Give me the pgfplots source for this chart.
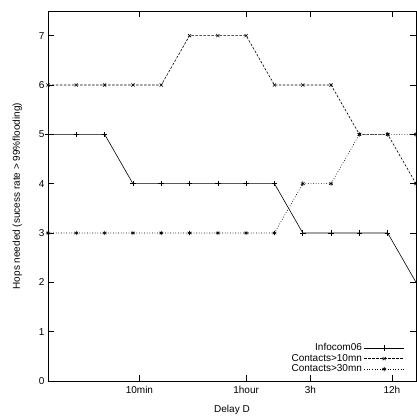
\documentclass[border=0pt]{standalone}
\usepackage{pgfplots}
\pgfplotsset{compat=1.18}
\usepackage{fontspec}
\setmainfont{Liberation Sans}
\begin{document}
\begin{tikzpicture}[x=1pt,y=1pt]
\begin{axis}[
  scale only axis,
  width=368pt, height=370pt,
  xmin=0, xmax=13, ymin=0, ymax=7.5,
  xtick={3.23,7,9.27,12.15},
  xticklabels={10min,1hour,3h,12h},
  ytick={0,1,2,3,4,5,6,7},
  xtick pos=both, ytick pos=both,
  tick align=inside,
  major tick length=6pt,
  tick style={black, line width=0.6pt},
  axis line style={line width=0.8pt},
  every axis plot/.append style={line width=0.6pt, black},
  font=\fontsize{10}{12}\selectfont,
  tick label style={font=\fontsize{10}{12}\selectfont},
  xticklabel style={yshift=-2pt},
  /pgf/number format/assume math mode=true,
  xlabel={Delay D},
  ylabel={Hops needed (sucess rate > 99\%flooding)},
  xlabel style={yshift=-5pt},
  ylabel style={yshift=10pt},
  legend cell align=right,
  legend plot pos=right,
  legend style={draw=none, fill=none, at={(0.972,0.012)}, anchor=south east,
    font=\fontsize{10}{12}\selectfont, row sep=-2pt, inner sep=1pt,
    /tikz/every even column/.append style={column sep=6pt}},
  legend image code/.code={\draw[mark repeat=2,mark phase=2,#1] plot coordinates {(0pt,0pt) (20pt,0pt) (40pt,0pt)};},
]
\addplot[solid, mark=+, mark size=2.8pt, mark options={solid}] coordinates {
(0,5)(1,5)(2,5)(3,4)(4,4)(5,4)(6,4)(7,4)(8,4)(9,3)(10,3)(11,3)(12,3)(13,2)};
\addlegendentry{Infocom06}
\addplot[dash pattern=on 2.5pt off 1.5pt, mark=x, mark size=2.2pt, mark options={solid}] coordinates {
(0,6)(1,6)(2,6)(3,6)(4,6)(5,7)(6,7)(7,7)(8,6)(9,6)(10,6)(11,5)(12,5)(13,4)};
\addlegendentry{Contacts>10mn}
\addplot[dash pattern=on 0.8pt off 1.8pt, mark=asterisk, mark size=2.2pt, mark options={solid}] coordinates {
(0,3)(1,3)(2,3)(3,3)(4,3)(5,3)(6,3)(7,3)(8,3)(9,4)(10,4)(11,5)(12,5)(13,5)};
\addlegendentry{Contacts>30mn}
\end{axis}
\pgfresetboundingbox
\path[use as bounding box] (-48pt,-34pt) rectangle (369pt,381pt);
\end{tikzpicture}
\end{document}
